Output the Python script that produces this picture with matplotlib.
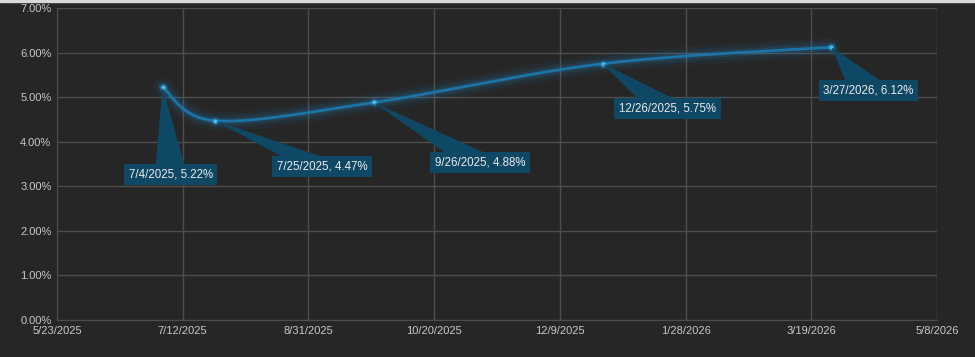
import matplotlib
matplotlib.use("Agg")
import matplotlib.pyplot as plt
import matplotlib.dates as mdates
import matplotlib.transforms as mtransforms
from matplotlib.patches import Polygon
import numpy as np
from datetime import date, timedelta

# data
dates = [date(2025, 7, 4), date(2025, 7, 25), date(2025, 9, 26),
         date(2025, 12, 26), date(2026, 3, 27)]
rates = [5.22, 4.47, 4.88, 5.75, 6.12]
labels = ["7/4/2025, 5.22%", "7/25/2025, 4.47%", "9/26/2025, 4.88%",
          "12/26/2025, 5.75%", "3/27/2026, 6.12%"]
# label offsets from each point (pixels, x right / y up)
offsets = [(8, -87), (107, -46), (106, -60), (65, -45), (37, -43)]

x_start = date(2025, 5, 23)
x_end = date(2026, 5, 8)
y_ticks = [0, 1, 2, 3, 4, 5, 6, 7]

BG = "#262626"
GRID = "#4d4d4d"
LINE = "#1c73a5"
GLOW = "#1f8fd6"
DOT = "#4cc0f5"
BOX = "#0f4864"
TICK = "#c8c8c8"
DPI = 100


def smooth(xs, ys, n=60):
    # Catmull-Rom style bezier, like spreadsheet "smoothed line"
    xs = np.asarray(xs, float)
    ys = np.asarray(ys, float)
    px = np.concatenate([[xs[0]], xs, [xs[-1]]])
    py = np.concatenate([[ys[0]], ys, [ys[-1]]])
    out_x, out_y = [], []
    t = np.linspace(0, 1, n)
    for i in range(1, len(px) - 2):
        p0 = np.array([px[i], py[i]])
        p3 = np.array([px[i + 1], py[i + 1]])
        c1 = p0 + (np.array([px[i + 1], py[i + 1]]) - np.array([px[i - 1], py[i - 1]])) / 6
        c2 = p3 - (np.array([px[i + 2], py[i + 2]]) - np.array([px[i], py[i]])) / 6
        b = ((1 - t) ** 3)[:, None] * p0 + (3 * (1 - t) ** 2 * t)[:, None] * c1 \
            + (3 * (1 - t) * t ** 2)[:, None] * c2 + (t ** 3)[:, None] * p3
        out_x.extend(b[:, 0])
        out_y.extend(b[:, 1])
    return np.array(out_x), np.array(out_y)


xnum = mdates.date2num(dates)
sx, sy = smooth(xnum, rates)

fig = plt.figure(figsize=(9.75, 3.57), dpi=DPI, facecolor=BG)
ax = fig.add_axes([57 / 975, 37 / 357, 880 / 975, 312 / 357])
ax.set_facecolor(BG)
ax.set_xlim(mdates.date2num(x_start), mdates.date2num(x_end))
ax.set_ylim(0, 7)

# glow under the line
for lw, a in [(14, 0.05), (9, 0.09), (5, 0.14)]:
    ax.plot(sx, sy, color=GLOW, lw=lw, alpha=a, solid_capstyle="round", zorder=2)
ax.plot(sx, sy, color=LINE, lw=2, zorder=3)
ax.scatter(xnum, rates, s=40, color=GLOW, alpha=0.3, zorder=4, linewidths=0)
ax.scatter(xnum, rates, s=9, color=DOT, zorder=5, linewidths=0)

# callouts: wedge from box to point, then boxed label
for xv, yv, lab, off in zip(xnum, rates, labels, offsets):
    px_, py_ = ax.transData.transform((xv, yv))
    cx, cy = px_ + off[0], py_ + off[1]
    d = np.array([cx - px_, cy - py_])
    d = d / np.hypot(*d)
    nrm = np.array([-d[1], d[0]]) * 22
    nrm = np.array([np.clip(nrm[0], -16, 16), np.clip(nrm[1], -7, 7)])
    wedge = Polygon([(px_, py_), (cx + nrm[0], cy + nrm[1]), (cx - nrm[0], cy - nrm[1])],
                    closed=True, fc=BOX, ec="none", transform=mtransforms.IdentityTransform(),
                    clip_on=False, zorder=6)
    ax.add_patch(wedge)
    ax.annotate(lab, xy=(xv, yv), xytext=(off[0] * 72 / DPI, off[1] * 72 / DPI),
                textcoords="offset points",
                ha="center", va="center", fontsize=8.3, color="#ececec",
                family="Liberation Sans",
                bbox=dict(boxstyle="square,pad=0.4", fc=BOX, ec="none"),
                zorder=7)

xt = [x_start + timedelta(days=50 * i) for i in range(8)]
ax.set_xticks(mdates.date2num(xt))
ax.set_xticklabels([f"{d.month}/{d.day}/{d.year}" for d in xt])
ax.set_yticks(y_ticks)
ax.set_yticklabels([f"{v:.2f}%" for v in y_ticks])
ax.grid(True, color=GRID, lw=1)
ax.set_axisbelow(True)
for s in ax.spines.values():
    s.set_visible(False)
ax.spines["left"].set_visible(True)
ax.spines["bottom"].set_visible(True)
ax.spines["left"].set_color(GRID)
ax.spines["bottom"].set_color(GRID)
ax.tick_params(length=0, colors=TICK, labelsize=8, pad=4)
for t in ax.get_xticklabels() + ax.get_yticklabels():
    t.set_family("Liberation Sans")

# thin light strip along the top edge
fig.patches.append(plt.Rectangle((0, 1 - 2 / 357), 1, 2 / 357, transform=fig.transFigure,
                                 color="#d9d9d9", zorder=0))

fig.savefig("out.png", dpi=DPI, facecolor=BG)
